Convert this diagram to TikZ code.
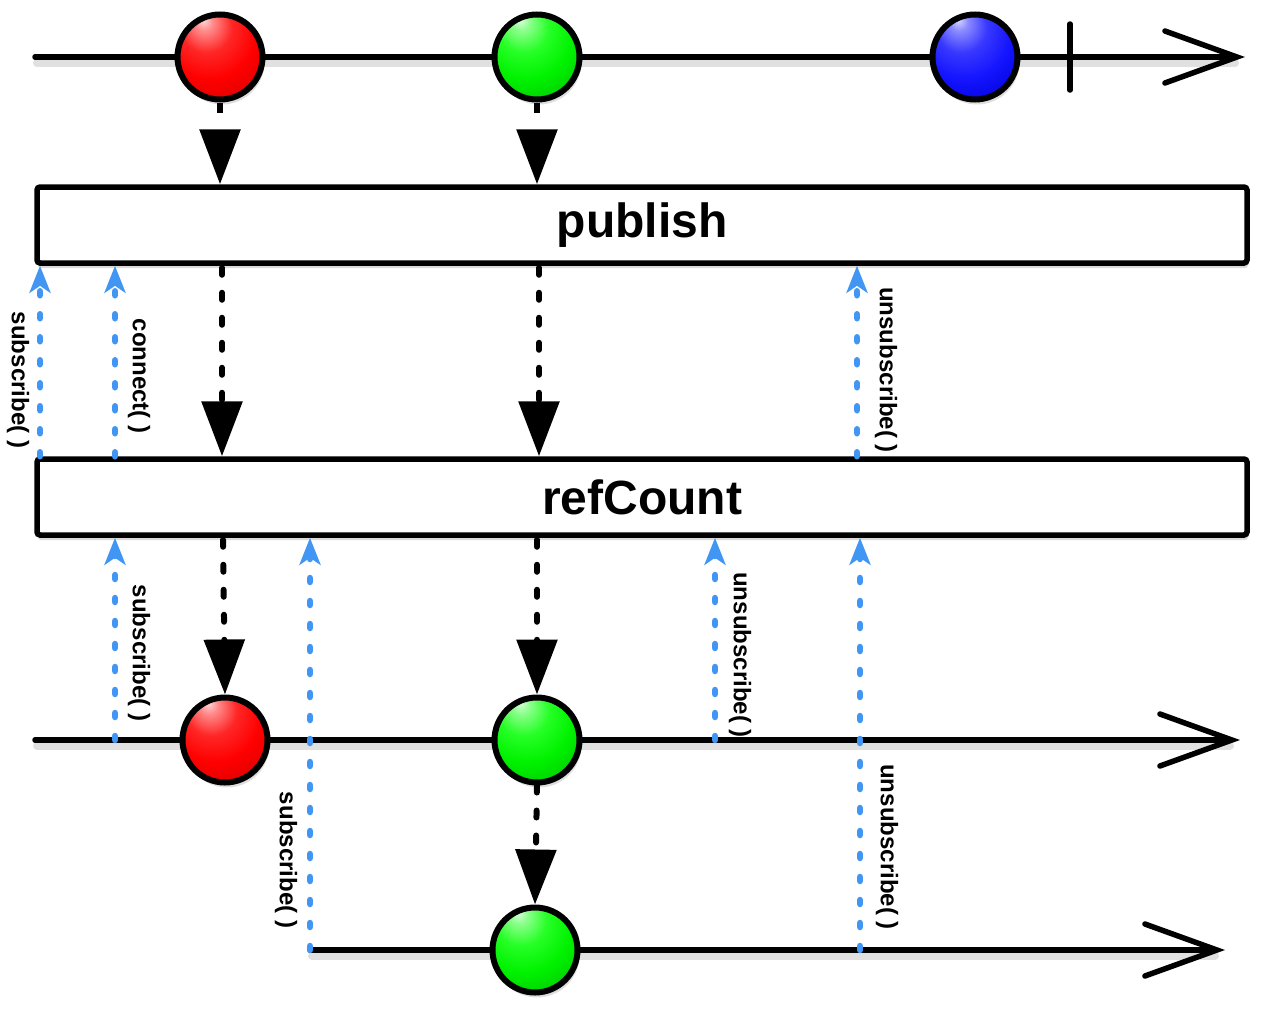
\documentclass[tikz,border=0pt]{standalone}
\usepackage{fontspec}
\setmainfont{Liberation Sans}
\usetikzlibrary{arrows.meta,shadows,calc}
\definecolor{rxblue}{RGB}{66,150,243}
\pgfdeclareradialshading{redball}{\pgfpoint{-10bp}{22bp}}{color(0bp)=(white!85!red); color(5bp)=(white!55!red); color(15bp)=(red!85!white); color(27bp)=(red); color(42bp)=(red!85!black); color(58bp)=(red!60!black); color(75bp)=(red!40!black)}
\pgfdeclareradialshading{greenball}{\pgfpoint{-10bp}{22bp}}{color(0bp)=(white!85!green); color(5bp)=(white!55!green); color(15bp)=(green!85!white); color(27bp)=(green!95!black); color(42bp)=(green!78!black); color(58bp)=(green!52!black); color(75bp)=(green!35!black)}
\pgfdeclareradialshading{blueball}{\pgfpoint{-10bp}{22bp}}{color(0bp)=(white!85!blue); color(5bp)=(white!55!blue); color(15bp)=(blue!78!white); color(27bp)=(blue!92!white); color(42bp)=(blue!85!black); color(58bp)=(blue!60!black); color(75bp)=(blue!40!black)}
\begin{document}
\begin{tikzpicture}[x=1pt,y=-1pt,
  timeline/.style={line width=5.5pt, line cap=round, -{Straight Barb[length=72pt,width=52pt,line width=5.5pt,line cap=round]}},
  lineshadow/.style={line width=8pt, black, opacity=0.12, line cap=round},
  ball/.style={circle, draw=black, line width=6pt, minimum size=85pt, inner sep=0pt,
    drop shadow={opacity=0.25, shadow xshift=2pt, shadow yshift=-5pt}},
  opbox/.style={draw=black, line width=5.5pt, fill=white, rounded corners=3pt,
    minimum width=1210pt, minimum height=76pt, font=\fontsize{48}{52}\selectfont\bfseries,
    drop shadow={opacity=0.3, shadow xshift=1pt, shadow yshift=-5pt}},
  emitarrow/.style={line width=6pt, dash pattern=on 10pt off 200pt, -{Triangle[length=55pt,width=40pt]}},
  passarrow/.style={line width=6pt, line cap=round, dash pattern=on 7pt off 18pt, -{Triangle[length=55pt,width=40pt]}},
  subarrow/.style={rxblue, line width=6.5pt, line cap=round, dash pattern=on 4pt off 19pt,
    -{Stealth[length=27pt,width=21pt,inset=7pt,line cap=butt]}},
  lbl/.style={font=\fontsize{24}{26}\selectfont\bfseries, rotate=-90, inner sep=0pt}
]
\useasboundingbox (0,0) rectangle (1280,1020);

% timeline coordinates
\coordinate (t1s) at (35,57);  \coordinate (t1e) at (1245,57);
\coordinate (t2s) at (35,740); \coordinate (t2e) at (1240,740);
\coordinate (t3s) at (310,950); \coordinate (t3e) at (1225,950);
\coordinate (stopT) at (1070,24); \coordinate (stopB) at (1070,90);

% shadows of lines
\draw[lineshadow] ($(t1s)+(2,6)$) -- ($(t1e)+(-10,6)$);
\draw[lineshadow] ($(t2s)+(2,6)$) -- ($(t2e)+(-10,6)$);
\draw[lineshadow] ($(t3s)+(2,6)$) -- ($(t3e)+(-10,6)$);

% timelines
\draw[timeline] (t1s) -- (t1e);
\draw[timeline] (t2s) -- (t2e);
\draw[timeline] (t3s) -- (t3e);
\draw[line width=5.5pt, line cap=round] (stopT) -- (stopB);

% operator boxes
\node[opbox] (pub) at (642,225) {\raisebox{-4pt}{publish}};
\node[opbox] (ref) at (642,497) {\raisebox{-2pt}{refCount}};

% balls
\node[ball, shading=redball] (a1) at (220,57) {};
\node[ball, shading=greenball] (b1) at (537,57) {};
\node[ball, shading=blueball] (c1) at (975,57) {};
\node[ball, shading=redball] (a2) at (225,740) {};
\node[ball, shading=greenball] (b2) at (537,740) {};
\node[ball, shading=greenball] (b3) at (535,950) {};

% emissions into publish
\draw[emitarrow] (a1.south) -- (a1.south |- pub.north);
\draw[emitarrow] (b1.south) -- (b1.south |- pub.north);
% publish -> refCount
\draw[passarrow] ($(a1.south |- pub.south)+(2,2)$) -- ($(a1.south |- ref.north)+(2,0)$);
\draw[passarrow] ($(b1.south |- pub.south)+(2,2)$) -- ($(b1.south |- ref.north)+(2,0)$);
% refCount -> subscribers
\draw[passarrow] ($(a2.north |- ref.south)+(-2,2)$) -- (a2.north);
\draw[passarrow] ($(b2.north |- ref.south)+(0,2)$) -- (b2.north);
\draw[passarrow] (b2.south) -- (b3.north);

% subscription arrows between publish and refCount
\coordinate (x1) at (40,0);
\coordinate (x2) at (115,0);
\coordinate (x3) at (857,0);
\draw[subarrow] (ref.north -| x1) -- (pub.south -| x1);
\draw[subarrow] (ref.north -| x2) -- (pub.south -| x2);
\draw[subarrow] (ref.north -| x3) -- (pub.south -| x3);
\node[lbl] (l1) at (18,380) {subscribe( )};
\node[lbl] (l2) at (139,376) {connect( )};
\node[lbl] (l3) at (886,370) {unsubscribe( )};

% subscription arrows below refCount
\coordinate (u1) at (115,740);
\coordinate (u3) at (715,740);
\coordinate (u4) at (860,950);
\draw[subarrow] (u1) -- (u1 |- ref.south);
\draw[subarrow] (t3s) -- (t3s |- ref.south);
\draw[subarrow] (u3) -- (u3 |- ref.south);
\draw[subarrow] (u4) -- (u4 |- ref.south);
\node[lbl] (l4) at (139,653) {subscribe( )};
\node[lbl] (l5) at (286,860) {subscribe( )};
\node[lbl] (l6) at (740,655) {unsubscribe( )};
\node[lbl] (l7) at (887,847) {unsubscribe( )};
\end{tikzpicture}
\end{document}
